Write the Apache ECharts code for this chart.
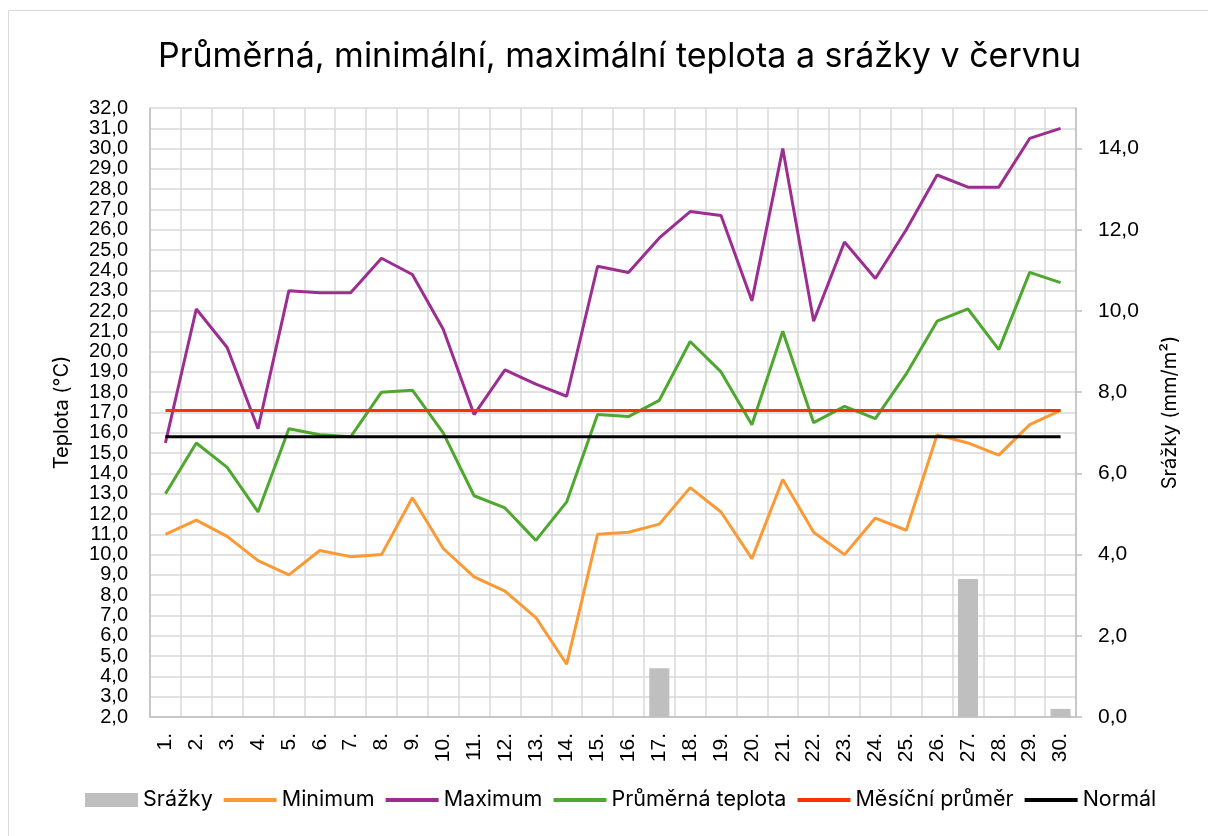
<!DOCTYPE html>
<html>
<head>
<meta charset="utf-8">
<script src="https://cdn.jsdelivr.net/npm/echarts@6/dist/echarts.min.js"></script>
<style>
html,body{margin:0;padding:0;background:#fff;}
#chart{width:1208px;height:836px;}
</style>
</head>
<body>
<div id="chart"></div>
<script>
var days = ['1.','2.','3.','4.','5.','6.','7.','8.','9.','10.','11.','12.','13.','14.','15.','16.','17.','18.','19.','20.','21.','22.','23.','24.','25.','26.','27.','28.','29.','30.'];
var srazky = [0,0,0,0,0,0,0,0,0,0,0,0,0,0,0,0,1.2,0,0,0,0,0,0,0,0,0,3.4,0,0,0.2];
var minimum = [11.0,11.7,10.9,9.7,9.0,10.2,9.9,10.0,12.8,10.3,8.9,8.2,6.9,4.6,11.0,11.1,11.5,13.3,12.1,9.8,13.7,11.1,10.0,11.8,11.2,15.9,15.5,14.9,16.4,17.1];
var maximum = [15.5,22.1,20.2,16.2,23.0,22.9,22.9,24.6,23.8,21.1,16.9,19.1,18.4,17.8,24.2,23.9,25.6,26.9,26.7,22.5,30.0,21.5,25.4,23.6,26.0,28.7,28.1,28.1,30.5,31.0];
var prumer = [13.0,15.5,14.3,12.1,16.2,15.9,15.8,18.0,18.1,16.0,12.9,12.3,10.7,12.6,16.9,16.8,17.6,20.5,19.0,16.4,21.0,16.5,17.3,16.7,18.9,21.5,22.1,20.1,23.9,23.4];
var mesicniPrumer = [17.1,17.1,17.1,17.1,17.1,17.1,17.1,17.1,17.1,17.1,17.1,17.1,17.1,17.1,17.1,17.1,17.1,17.1,17.1,17.1,17.1,17.1,17.1,17.1,17.1,17.1,17.1,17.1,17.1,17.1];
var normal = [15.8,15.8,15.8,15.8,15.8,15.8,15.8,15.8,15.8,15.8,15.8,15.8,15.8,15.8,15.8,15.8,15.8,15.8,15.8,15.8,15.8,15.8,15.8,15.8,15.8,15.8,15.8,15.8,15.8,15.8];

var chart = echarts.init(document.getElementById('chart'), null, {renderer:'canvas'});
var numFont = 'Liberation Sans, Arial, sans-serif';
var txtFont = 'Inter, Noto Sans, sans-serif';
function fmt(v){ return v.toFixed(1).replace('.', ','); }
function lineSeries(name, data, color){
  return {name:name, type:'line', data:data, yAxisIndex:0, symbol:'none', showSymbol:false,
    lineStyle:{width:3, color:color}, itemStyle:{color:color}, animation:false};
}
function legendLine(name){ return {name:name, itemStyle:{opacity:0}, lineStyle:{width:4}}; }
chart.setOption({
  animation:false,
  graphic:[{type:'rect', shape:{x:8.5, y:10.5, width:1220, height:840}, style:{fill:'none', stroke:'#d9d9d9', lineWidth:1}, silent:true}],
  title:{text:'Průměrná, minimální, maximální teplota a srážky v červnu', left:153, top:35,
    textStyle:{fontFamily:txtFont, fontSize:34, fontWeight:'normal', color:'#000'}},
  grid:{left:150, right:132, top:108, bottom:119},
  legend:{bottom:20, left:80, itemWidth:53, itemHeight:14, itemGap:9,
    textStyle:{fontFamily:txtFont, fontSize:21.5, color:'#000'},
    data:[{name:'Srážky', icon:'rect'}, legendLine('Minimum'), legendLine('Maximum'), legendLine('Průměrná teplota'), legendLine('Měsíční průměr'), legendLine('Normál')]},
  xAxis:{type:'category', data:days, boundaryGap:true,
    axisLine:{show:true, lineStyle:{color:'#bfbfbf', width:1.5}},
    axisTick:{show:false},
    axisLabel:{rotate:90, interval:0, margin:16, fontFamily:numFont, fontSize:21, color:'#000'},
    splitLine:{show:true, interval:0, lineStyle:{color:'#d9d9d9', width:1.5}}},
  yAxis:[
    {type:'value', min:2, max:32, interval:1, position:'left',
     name:'Teplota (°C)', nameLocation:'middle', nameGap:78, nameRotate:90,
     nameTextStyle:{fontFamily:txtFont, fontSize:20, color:'#000'},
     axisLine:{show:true, lineStyle:{color:'#bfbfbf', width:1.5}}, axisTick:{show:false},
     axisLabel:{formatter:fmt, margin:22, showMinLabel:true, showMaxLabel:true, fontFamily:numFont, fontSize:20, color:'#000'},
     splitLine:{show:true, lineStyle:{color:'#d9d9d9', width:1.5}}},
    {type:'value', min:0, max:15, interval:2, position:'right',
     name:'Srážky (mm/m²)', nameLocation:'middle', nameGap:84, nameRotate:90,
     nameTextStyle:{fontFamily:txtFont, fontSize:20, color:'#000'},
     axisLine:{show:true, lineStyle:{color:'#bfbfbf', width:1.5}},
     axisTick:{show:true, length:6, lineStyle:{color:'#bfbfbf', width:1.5}},
     axisLabel:{formatter:function(v){ return v > 14 ? '' : fmt(v); }, showMinLabel:true, showMaxLabel:false, margin:22, fontFamily:numFont, fontSize:21, color:'#000'},
     splitLine:{show:false}}
  ],
  series:[
    {name:'Srážky', type:'bar', data:srazky, yAxisIndex:1, barWidth:'65%', itemStyle:{color:'#bfbfbf'}, animation:false},
    lineSeries('Minimum', minimum, '#fb9a35'),
    lineSeries('Maximum', maximum, '#9c2e91'),
    lineSeries('Průměrná teplota', prumer, '#4ea72e'),
    lineSeries('Měsíční průměr', mesicniPrumer, '#ff3300'),
    lineSeries('Normál', normal, '#000000')
  ]
});
</script>
</body>
</html>
